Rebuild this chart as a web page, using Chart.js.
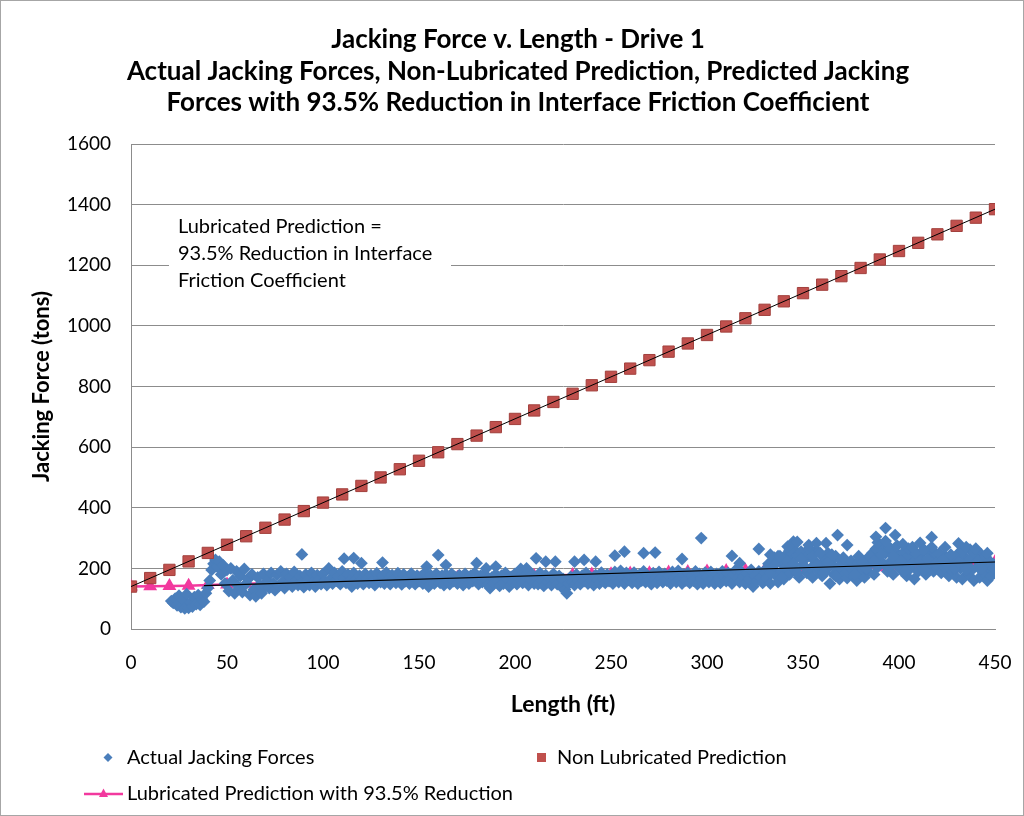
<!DOCTYPE html>
<html>
<head>
<meta charset="utf-8">
<script src="https://cdn.jsdelivr.net/npm/chart.js@4.4.1/dist/chart.umd.min.js"></script>
<style>
  html, body { margin: 0; padding: 0; background: #ffffff; }
  canvas { display: block; }
</style>
</head>
<body>
<canvas id="chart" width="1024" height="816"></canvas>
<script>
// ---- Text ----
const titleLines = [
  'Jacking Force v. Length - Drive 1',
  'Actual Jacking Forces, Non-Lubricated Prediction, Predicted Jacking',
  'Forces with 93.5% Reduction in Interface Friction Coefficient'
];
const noteLines = [
  'Lubricated Prediction =',
  '93.5% Reduction in Interface',
  'Friction Coefficient'
];
const seriesNames = ['Actual Jacking Forces', 'Non Lubricated Prediction', 'Lubricated Prediction with 93.5% Reduction'];
const xAxisTitle = 'Length (ft)';
const yAxisTitle = 'Jacking Force (tons)';

// ---- Axis ticks ----
const xTickValues = [0, 50, 100, 150, 200, 250, 300, 350, 400, 450];
const yTickValues = [0, 200, 400, 600, 800, 1000, 1200, 1400, 1600];

// ---- Actual jacking forces (tons), one reading per foot from actualStartFt ----
const actualStartFt = 21;
const actualForces = [
  92, 86, 100, 78, 110, 72, 95, 68, 115, 70,
  88, 74, 105, 82, 112, 80, 98, 90, 118, 135,
  160, 195, 215, 228, 205, 222, 180, 210, 150, 195,
  125, 200, 160, 118, 190, 140, 175, 122, 198, 150,
  165, 112, 180, 130, 108, 170, 145, 118, 182, 140,
  160, 135, 185, 150, 128, 178, 142, 190, 155, 135,
  182, 150, 170, 140, 188, 158, 145, 175, 152, 138,
  180, 160, 145, 185, 155, 140, 178, 162, 148, 182,
  158, 145, 200, 165, 150, 185, 160, 172, 148, 190,
  168, 152, 180, 158, 140, 185, 162, 150, 176, 160,
  148, 182, 165, 152, 178, 158, 145, 184, 168, 155,
  175, 150, 186, 162, 148, 178, 165, 152, 184, 160,
  147, 180, 158, 170, 150, 183, 163, 148, 176, 158,
  172, 150, 185, 160, 140, 178, 165, 150, 182, 168,
  152, 176, 145, 180, 160, 148, 182, 158, 170, 150,
  178, 160, 145, 182, 165, 150, 176, 158, 185, 162,
  148, 175, 155, 182, 160, 145, 135, 170, 150, 180,
  158, 142, 176, 150, 185, 165, 140, 172, 155, 182,
  148, 168, 198, 152, 175, 200, 145, 165, 180, 150,
  170, 148, 185, 160, 142, 178, 155, 168, 145, 182,
  160, 148, 175, 140, 165, 130, 118, 150, 172, 155,
  145, 180, 160, 148, 176, 158, 185, 150, 170, 160,
  145, 178, 162, 150, 186, 165, 152, 180, 158, 172,
  150, 188, 165, 155, 192, 170, 150, 185, 162, 175,
  152, 186, 166, 150, 180, 160, 190, 155, 176, 162,
  148, 184, 165, 152, 188, 168, 155, 182, 160, 175,
  150, 188, 170, 155, 192, 165, 150, 180, 160, 185,
  152, 175, 160, 190, 148, 182, 165, 150, 186, 170,
  155, 188, 165, 150, 182, 168, 152, 190, 172, 158,
  185, 162, 150, 180, 195, 168, 155, 188, 172, 150,
  182, 165, 195, 140, 176, 158, 190, 170, 152, 185,
  168, 215, 150, 195, 235, 175, 155, 222, 190, 165,
  205, 250, 180, 230, 265, 195, 240, 170, 255, 210,
  230, 185, 245, 200, 170, 225, 260, 190, 210, 175,
  235, 195, 250, 150, 215, 180, 240, 200, 165, 225,
  180, 210, 168, 195, 225, 175, 205, 160, 220, 185,
  200, 170, 230, 190, 215, 250, 180, 265, 205, 240,
  275, 215, 250, 190, 270, 225, 180, 255, 210, 240,
  195, 250, 220, 175, 240, 200, 260, 165, 230, 190,
  245, 205, 225, 180, 255, 210, 235, 190, 250, 200,
  225, 185, 210, 240, 195, 175, 215, 190, 230, 170,
  250, 200, 165, 240, 215, 180, 262, 195, 160, 235,
  205, 170, 245, 185, 220, 160, 200, 175, 215, 185
];

// ---- Second pass of readings over the last stretch (every 2 ft from 331) ----
const actualLateStartFt = 331;
const actualLateForces = [
  200, 185, 210, 240, 170, 228, 260, 215, 185, 232,
  205, 265, 240, 210, 250, 185, 220, 245, 175, 205,
  235, 190, 200, 180, 240, 220, 200, 240, 225, 285,
  245, 290, 205, 240, 275, 225, 190, 265, 215, 250,
  225, 195, 230, 270, 215, 250, 230, 210, 245, 200,
  220, 255, 195, 230, 250, 225, 200, 240, 225, 200
];

// ---- Isolated high readings of the same series ----
const actualPeakFt = [
  89, 111, 116, 120, 131, 154, 160, 164, 180, 185, 190,
  211, 216, 221, 231, 236, 242, 252, 257, 267, 273,
  287, 297, 313, 317, 327, 333, 338, 342, 345, 347, 353, 357, 362, 368, 373,
  388, 393, 398, 402, 407, 411, 413, 417, 424, 431, 435, 440, 446
];
const actualPeakForce = [
  246, 232, 234, 217, 219, 206, 244, 211, 217, 200, 206,
  233, 222, 222, 222, 228, 222, 242, 255, 250, 252,
  231, 300, 241, 217, 264, 245, 240, 272, 288, 287, 277, 283, 283, 310, 277,
  304, 333, 310, 280, 270, 284, 262, 303, 270, 282, 270, 265, 250
];

// ---- Predictions every 10 ft (tons) ----
const predictionFt = [
  0, 10, 20, 30, 40, 50, 60, 70, 80, 90,
  100, 110, 120, 130, 140, 150, 160, 170, 180, 190,
  200, 210, 220, 230, 240, 250, 260, 270, 280, 290,
  300, 310, 320, 330, 340, 350, 360, 370, 380, 390,
  400, 410, 420, 430, 440, 450
];
const nonLubricated = [
  140, 168, 195, 223, 251, 278, 306, 334, 361, 389,
  417, 444, 472, 500, 527, 555, 583, 610, 638, 666,
  693, 721, 749, 776, 804, 832, 859, 887, 915, 942,
  970, 998, 1025, 1053, 1081, 1108, 1136, 1164, 1191, 1219,
  1247, 1274, 1302, 1330, 1357, 1385
];
const lubricated = [
  140, 141, 142, 143, 145, 147, 149, 151, 153, 155,
  157, 159, 161, 163, 165, 166, 168, 169, 171, 172,
  173, 175, 177, 178, 180, 181, 183, 184, 186, 188,
  190, 191, 193, 194, 196, 197, 199, 200, 202, 204,
  206, 208, 211, 214, 217, 221
];

// ---- Linear trend lines (end points) ----
const nonLubTrendFt = [0, 450];
const nonLubTrendForce = [140, 1385];
const actualTrendFt = [38, 450];
const actualTrendForce = [143, 221];

// ---- Build point lists ----
const toPoints = (xs, ys) => xs.map((x, i) => ({ x: x, y: ys[i] }));
const actualPoints = actualForces.map((v, i) => ({ x: actualStartFt + i, y: v }))
  .concat(actualLateForces.map((v, i) => ({ x: actualLateStartFt + 2 * i, y: v })))
  .concat(toPoints(actualPeakFt, actualPeakForce));

const FONT = 'Lato, "Open Sans", "DejaVu Sans", sans-serif';
const BLUE = '#4A7EBB';
const RED = '#C0504D';
const RED_EDGE = '#A2403D';
const PINK = '#F2399E';
const GRID = '#8C8C8C';

// Title, legend, note box and outer frame
const decorations = {
  id: 'decorations',
  beforeDatasetsDraw(chart) {
    const ctx = chart.ctx;
    ctx.save();
    ctx.fillStyle = '#ffffff';
    ctx.fillRect(169, 211, 282, 84);
    ctx.fillStyle = '#000000';
    ctx.font = '20px ' + FONT;
    ctx.textAlign = 'left';
    ctx.textBaseline = 'middle';
    noteLines.forEach((t, i) => ctx.fillText(t, 178, 227 + i * 27));
    ctx.restore();
  },
  afterDraw(chart) {
    const ctx = chart.ctx;
    ctx.save();
    // frame
    ctx.strokeStyle = '#A6A6A6';
    ctx.lineWidth = 1;
    ctx.strokeRect(0.5, 0.5, 1023, 815);
    // title
    ctx.fillStyle = '#000000';
    ctx.font = 'bold 26px ' + FONT;
    ctx.textAlign = 'center';
    ctx.textBaseline = 'middle';
    titleLines.forEach((t, i) => ctx.fillText(t, 518, 40 + i * 31.5));
    // legend
    ctx.font = '20px ' + FONT;
    ctx.textAlign = 'left';
    ctx.fillText(seriesNames[0], 127, 758);
    ctx.fillText(seriesNames[1], 557, 758);
    ctx.fillText(seriesNames[2], 127, 794);
    // legend markers
    ctx.fillStyle = BLUE;
    ctx.beginPath();
    ctx.moveTo(108, 753); ctx.lineTo(112.5, 757.5); ctx.lineTo(108, 762); ctx.lineTo(103.5, 757.5);
    ctx.closePath(); ctx.fill();
    ctx.fillStyle = RED;
    ctx.fillRect(537, 753, 9, 9);
    ctx.strokeStyle = PINK;
    ctx.lineWidth = 2.5;
    ctx.beginPath(); ctx.moveTo(84, 794); ctx.lineTo(123, 794); ctx.stroke();
    ctx.fillStyle = PINK;
    ctx.beginPath();
    ctx.moveTo(103.5, 788.5); ctx.lineTo(108, 797); ctx.lineTo(99, 797);
    ctx.closePath(); ctx.fill();
    ctx.restore();
  }
};

new Chart(document.getElementById('chart'), {
  type: 'scatter',
  data: {
    datasets: [
      {
        label: 'Non Lubricated Trend',
        type: 'line',
        data: toPoints(nonLubTrendFt, nonLubTrendForce),
        borderColor: '#000000',
        borderWidth: 1,
        pointRadius: 0,
        fill: false,
        order: 0
      },
      {
        label: 'Actual Trend',
        type: 'line',
        data: toPoints(actualTrendFt, actualTrendForce),
        borderColor: '#000000',
        borderWidth: 1.2,
        pointRadius: 0,
        fill: false,
        order: 0
      },
      {
        label: seriesNames[1],
        data: toPoints(predictionFt, nonLubricated),
        pointStyle: 'rect',
        pointRadius: 8,
        backgroundColor: RED,
        borderColor: RED_EDGE,
        borderWidth: 1,
        order: 1
      },
      {
        label: seriesNames[0],
        data: actualPoints,
        pointStyle: 'rectRot',
        pointRadius: 6.4,
        backgroundColor: BLUE,
        borderColor: BLUE,
        borderWidth: 0,
        order: 2
      },
      {
        label: seriesNames[2],
        type: 'line',
        data: toPoints(predictionFt, lubricated),
        borderColor: PINK,
        borderWidth: 2.5,
        pointStyle: 'triangle',
        pointRadius: 5.5,
        backgroundColor: PINK,
        pointBorderColor: PINK,
        fill: false,
        order: 3
      }
    ]
  },
  options: {
    responsive: false,
    animation: false,
    devicePixelRatio: 1,
    layout: { padding: { top: 144, left: 0, right: 29, bottom: 87 } },
    plugins: {
      legend: { display: false },
      title: { display: false },
      tooltip: { enabled: false }
    },
    scales: {
      x: {
        type: 'linear',
        min: 0,
        max: 450,
        afterFit: s => { s.height = 100; s.paddingLeft = 0; s.paddingRight = 10; },
        afterBuildTicks: s => { s.ticks = xTickValues.map(v => ({ value: v })); },
        grid: { display: false, drawTicks: false },
        border: { display: true, color: GRID, width: 1 },
        ticks: { color: '#000000', padding: 22, maxRotation: 0, callback: v => String(v), font: { family: FONT, size: 19 } },
        title: {
          display: true,
          text: xAxisTitle,
          color: '#000000',
          font: { family: FONT, size: 23, weight: 'bold' },
          padding: { top: 0, bottom: 11 }
        }
      },
      y: {
        type: 'linear',
        min: 0,
        max: 1600,
        afterFit: s => { s.width = 131; },
        afterBuildTicks: s => { s.ticks = yTickValues.map(v => ({ value: v })); },
        grid: { color: GRID, lineWidth: 1, drawTicks: false },
        border: { display: true, color: GRID, width: 1 },
        ticks: { color: '#000000', padding: 20, callback: v => String(v), font: { family: FONT, size: 19 } },
        title: {
          display: true,
          text: yAxisTitle,
          color: '#000000',
          font: { family: FONT, size: 22, weight: 'bold' },
          padding: { top: 29, bottom: 0 }
        }
      }
    }
  },
  plugins: [decorations]
});
</script>
</body>
</html>
